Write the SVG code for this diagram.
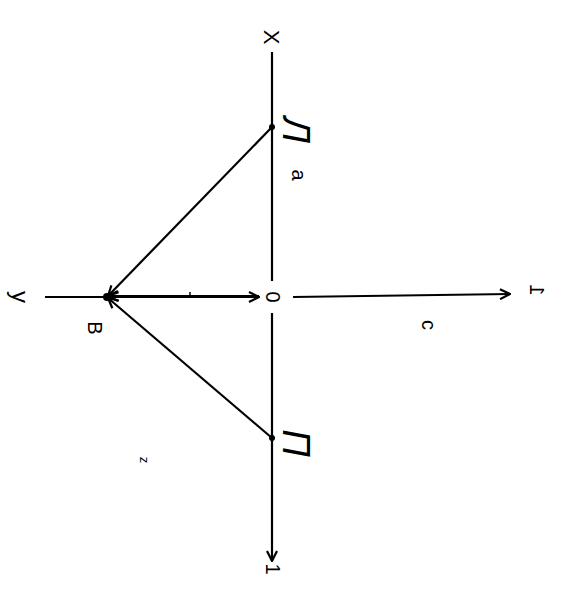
<svg xmlns="http://www.w3.org/2000/svg" width="575" height="600" viewBox="0 0 575 600">
<style>
.ln{stroke:#000;stroke-width:2.2;fill:none}
.t{font-family:"Liberation Sans",Arial,sans-serif;font-size:20px;fill:#000}
.g{font-family:"Liberation Sans",Arial,sans-serif;font-size:38px;font-style:italic;fill:#000}
</style>
<defs>
<marker id="ar" viewBox="0 0 12 12" refX="11" refY="6" markerWidth="12" markerHeight="12" markerUnits="userSpaceOnUse" orient="auto">
<path d="M1,1 L11,6 L1,11" fill="none" stroke="#000" stroke-width="2.2"/>
</marker>
</defs>
<rect width="575" height="600" fill="#fff"/>
<g id="connectors">
<line class="ln" x1="272" y1="52" x2="272" y2="281"/>
<line class="ln" x1="272" y1="313" x2="272" y2="561" marker-end="url(#ar)"/>
<line class="ln" x1="293" y1="297" x2="510" y2="294" marker-end="url(#ar)"/>
<line class="ln" x1="45" y1="297" x2="107" y2="297"/>
<line class="ln" x1="107" y1="297" x2="259" y2="297" marker-end="url(#ar)"/>
<line class="ln" x1="259" y1="296" x2="108" y2="296" marker-end="url(#ar)"/>
<line class="ln" x1="272" y1="127" x2="108" y2="296" marker-end="url(#ar)"/>
<line class="ln" x1="272" y1="438" x2="108" y2="298" marker-end="url(#ar)"/>
<line stroke="#000" stroke-width="1.5" x1="190" y1="292" x2="190" y2="297"/>
</g>
<g id="node-L">
<circle cx="272" cy="127" r="3"/>
<text class="g" transform="translate(283,130) rotate(90)" text-anchor="middle">Л</text>
</g>
<g id="node-P">
<circle cx="272" cy="438" r="3"/>
<text class="g" transform="translate(283,443) rotate(90)" text-anchor="middle">П</text>
</g>
<g id="node-B">
<circle cx="107" cy="297" r="4"/>
<text class="t" transform="translate(88,328) rotate(90)" text-anchor="middle">B</text>
</g>
<g id="node-0">
<text class="t" transform="translate(266,297) rotate(90)" text-anchor="middle">0</text>
</g>
<g id="labels">
<text class="t" transform="translate(264,37) rotate(90)" text-anchor="middle" style="font-size:22px">X</text>
<text class="t" transform="translate(292,175) rotate(90)" text-anchor="middle">a</text>
<text class="t" transform="translate(422,325) rotate(90)" text-anchor="middle">c</text>
<text class="t" transform="translate(140,460) rotate(90)" text-anchor="middle" style="font-size:13px">z</text>
<text class="t" transform="translate(12,297) rotate(90)" text-anchor="middle" style="font-size:24px">y</text>
<text class="t" transform="translate(266,569) rotate(90)" text-anchor="middle">1</text>
<text class="t" transform="translate(530,290) rotate(90) scale(-1,1)" text-anchor="middle">1</text>
</g>
</svg>
